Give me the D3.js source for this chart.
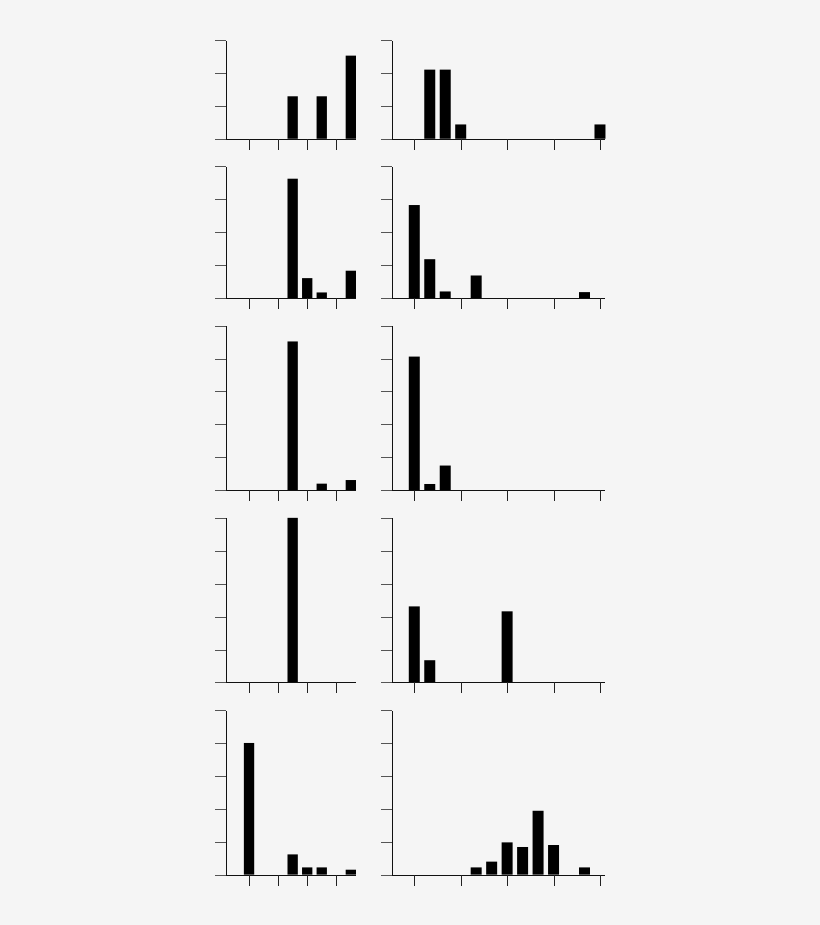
<!DOCTYPE html>
<html>
<head>
<meta charset="utf-8">
<script src="https://cdn.jsdelivr.net/npm/d3@7"></script>
<style>
  body { margin: 0; background: #f5f5f5; }
  svg { display: block; }
</style>
</head>
<body>
<svg id="chart" width="820" height="925" viewBox="0 0 820 925"></svg>
<script>
// proportion per bin, left column (bins 0..7)
const leftRow1 = [0, 0, 0, 0.258, 0, 0.258, 0, 0.505]
const leftRow2 = [0, 0, 0, 0.725, 0.121, 0.034, 0, 0.166]
const leftRow3 = [0, 0, 0, 0.904, 0, 0.04, 0, 0.062]
const leftRow4 = [0, 0, 0, 1.0, 0, 0, 0, 0]
const leftRow5 = [0.8, 0, 0, 0.123, 0.044, 0.044, 0, 0.03]

// proportion per bin, right column (bins 0..12)
const rightRow1 = [0, 0.42, 0.42, 0.087, 0, 0, 0, 0, 0, 0, 0, 0, 0.087]
const rightRow2 = [0.565, 0.236, 0.04, 0, 0.137, 0, 0, 0, 0, 0, 0, 0.036, 0]
const rightRow3 = [0.812, 0.038, 0.15, 0, 0, 0, 0, 0, 0, 0, 0, 0, 0]
const rightRow4 = [0.462, 0.135, 0, 0, 0, 0, 0.432, 0, 0, 0, 0, 0, 0]
const rightRow5 = [0, 0, 0, 0, 0.044, 0.079, 0.196, 0.168, 0.388, 0.18, 0, 0.044, 0]

const rowMax = [0.6, 0.8, 1.0, 1.0, 1.0]
const yTicks = [0, 0.2, 0.4, 0.6, 0.8, 1.0]
const leftXTicks = [0, 2, 4, 6]
const rightXTicks = [0, 3, 6, 9, 12]

const leftRows = [leftRow1, leftRow2, leftRow3, leftRow4, leftRow5]
const rightRows = [rightRow1, rightRow2, rightRow3, rightRow4, rightRow5]

const svg = d3.select("#chart")

const pxPerUnit = 164.6
const rowGap = 27.6
const tickLen = 11

// horizontal layout of the two columns
const leftCol = {domain: [-2.34, 7.3], range: [215, 355.2], ticks: leftXTicks}
const rightCol = {domain: [-2.17, 12.26], range: [380.7, 604], ticks: rightXTicks}

let rowTop = 40
rowMax.forEach((m, i) => {
    const h = m * pxPerUnit
    const y = d3.scaleLinear().domain([0, m]).range([rowTop + h, rowTop])
    drawPanel(leftRows[i], leftCol, y, m)
    drawPanel(rightRows[i], rightCol, y, m)
    rowTop = rowTop + h + rowGap
})

function drawPanel(values, col, y, m) {
    const x = d3.scaleLinear().domain(col.domain).range(col.range)
    const axisX = col.range[0] + tickLen
    const g = svg.append("g")

    // bars
    const bw = (x(1) - x(0)) * 0.71
    g.append("g")
        .selectAll("rect")
        .data(values.map((v, i) => ({bin: i, v: v})).filter(d => d.v > 0))
        .enter()
        .append("rect")
        .attr("x", d => x(d.bin) - bw / 2)
        .attr("width", bw)
        .attr("y", d => y(d.v))
        .attr("height", d => y(0) - y(d.v))
        .attr("fill", "#000")

    // x axis
    const xAxis = d3.axisBottom(x)
        .tickValues(col.ticks)
        .tickFormat("")
        .tickSizeInner(tickLen)
        .tickSizeOuter(0)
    const gx = g.append("g")
        .attr("transform", `translate(0,${y(0)})`)
        .attr("shape-rendering", "crispEdges")
        .call(xAxis)
    gx.select(".domain").attr("stroke", "#111")
    gx.selectAll(".tick line").attr("stroke", "#222")

    // y axis
    const yAxis = d3.axisLeft(y)
        .tickValues(yTicks.filter(t => t <= m + 1e-9))
        .tickFormat("")
        .tickSizeInner(tickLen)
        .tickSizeOuter(0)
    const gy = g.append("g")
        .attr("transform", `translate(${axisX},0)`)
        .attr("shape-rendering", "crispEdges")
        .call(yAxis)
    gy.select(".domain").attr("stroke", "#111")
    gy.selectAll(".tick line").attr("stroke", "#555")
}
</script>
</body>
</html>
